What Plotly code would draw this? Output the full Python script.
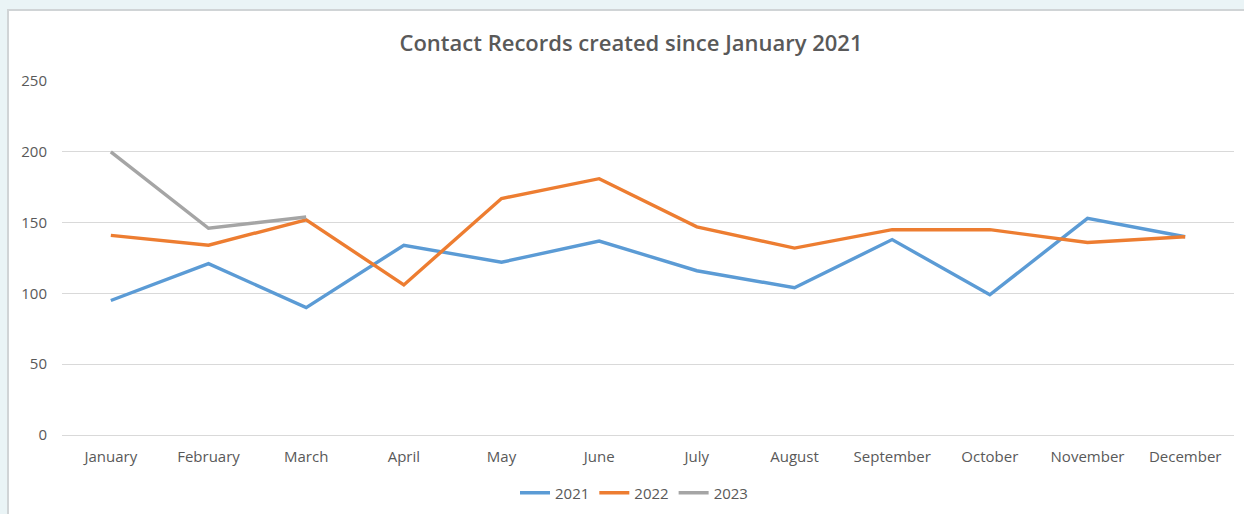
import plotly.graph_objects as go

months = ["January", "February", "March", "April", "May", "June",
          "July", "August", "September", "October", "November", "December"]
records_2021 = [95, 121, 90, 134, 122, 137, 116, 104, 138, 99, 153, 140]
records_2022 = [141, 134, 152, 106, 167, 181, 147, 132, 145, 145, 136, 140]
records_2023 = [200, 146, 154]

W, H = 1244, 514
L, R, T, B = 62, 10, 81, 79
PW, PH = W - L - R, H - T - B
FONT = "Open Sans"
TXT = "#595959"
GRID = "#D9D9D9"

fig = go.Figure()
for name, vals, col in [("2021", records_2021, "#5B9BD5"),
                        ("2022", records_2022, "#ED7D31"),
                        ("2023", records_2023, "#A5A5A5")]:
    fig.add_trace(go.Scatter(x=months[:len(vals)], y=vals, name=name,
                             mode="lines", line=dict(color=col, width=3.4)))

# white chart panel on the pale page background
fig.add_shape(type="rect", xref="paper", yref="paper",
              x0=(8 - L) / PW, x1=1 + (R + 4) / PW,
              y0=-(B + 4) / PH, y1=(H - B - 10) / PH,
              fillcolor="white", line=dict(color="#D0D4D6", width=2),
              layer="below")

fig.update_layout(
    width=W, height=H,
    margin=dict(l=L, r=R, t=T, b=B, autoexpand=False),
    paper_bgcolor="#EAF4F6",
    plot_bgcolor="white",
    font=dict(family=FONT, color=TXT, size=15),
    title=dict(text="Contact Records created since January 2021",
               x=631 / W, xanchor="center", xref="container",
               y=1 - 43 / H, yanchor="middle", yref="container",
               font=dict(family=FONT, size=22, color=TXT, weight=600)),
    showlegend=True,
    legend=dict(orientation="h", x=0.5 + (634 - (L + PW / 2)) / PW,
                xanchor="center",
                y=-(493 - (H - B)) / PH, yanchor="middle", yref="paper",
                font=dict(size=15, color=TXT), bgcolor="rgba(0,0,0,0)",
                tracegroupgap=0),
    xaxis=dict(range=[-0.5, 11.5], showgrid=False, showline=False,
               zeroline=False, ticks="", ticklabelstandoff=11,
               tickfont=dict(size=15)),
    yaxis=dict(range=[0, 250], dtick=50, showgrid=True, gridcolor=GRID,
               gridwidth=1, zeroline=True, zerolinecolor=GRID,
               zerolinewidth=1, showline=False, ticks="",
               ticklabelstandoff=14, tickfont=dict(size=15)),
)

fig.write_html("out.html")
